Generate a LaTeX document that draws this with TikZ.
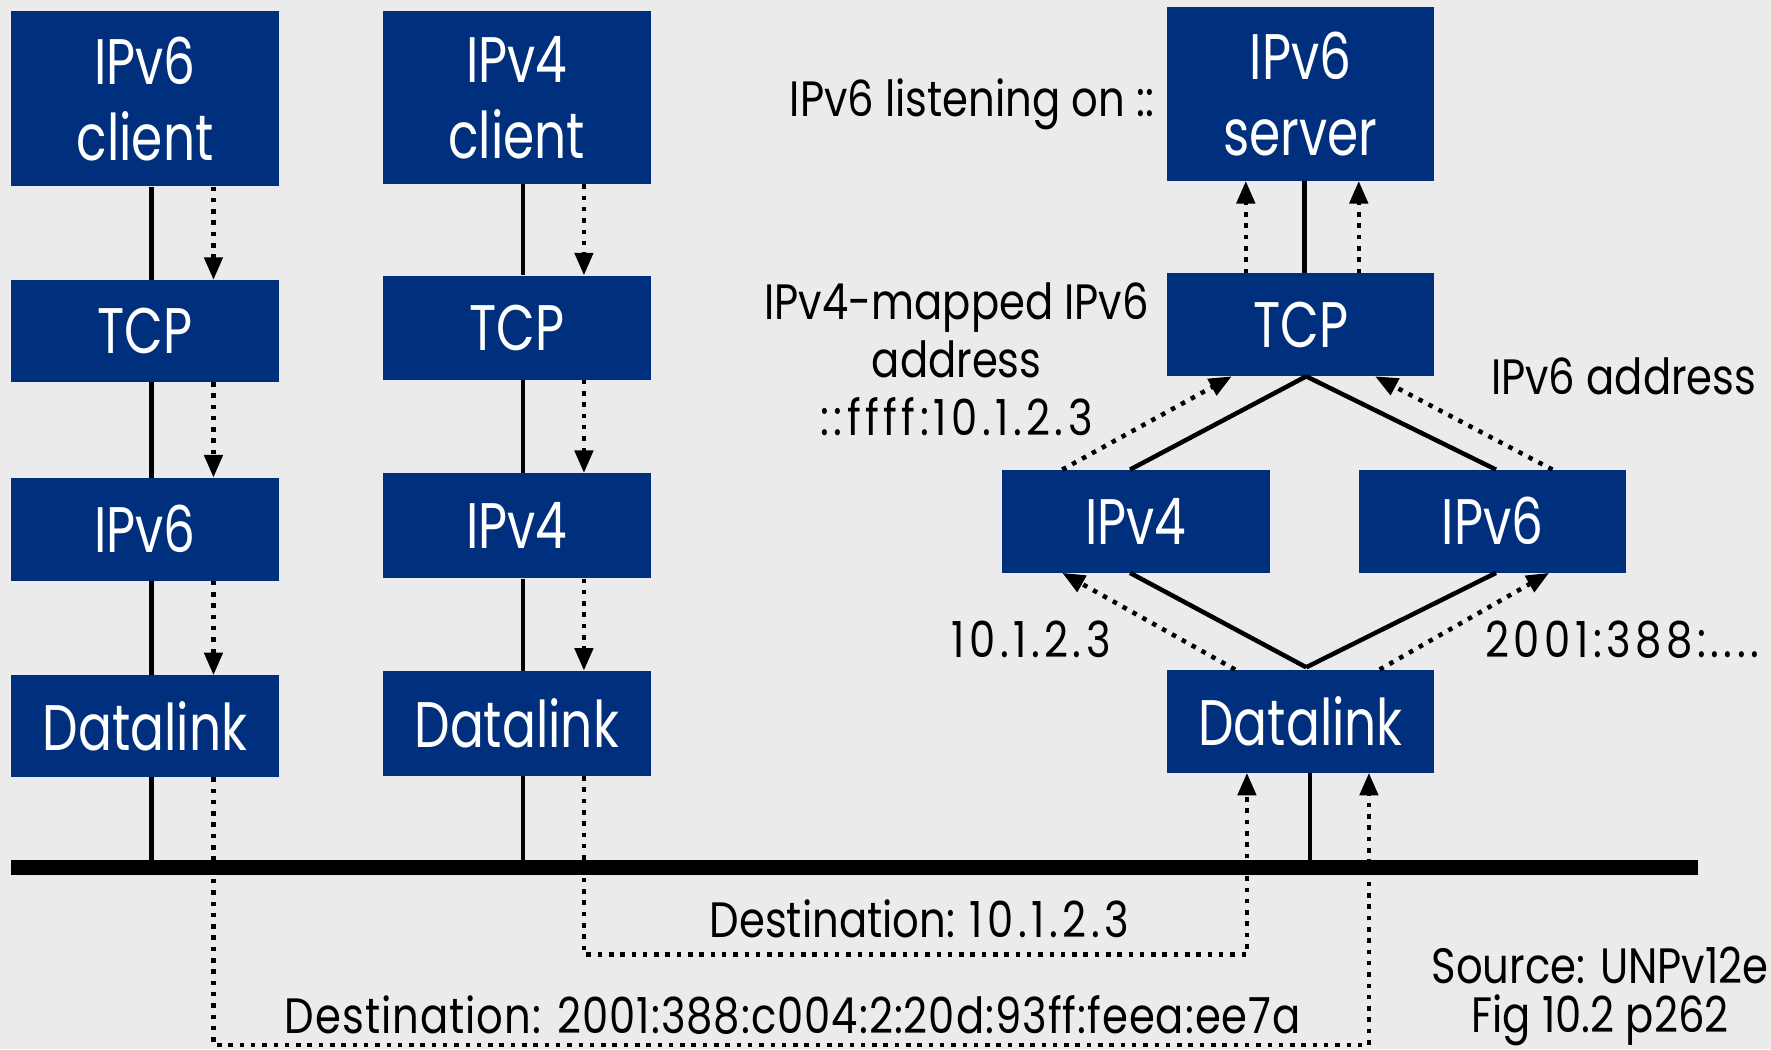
\documentclass[tikz,border=0pt]{standalone}
\usepackage{fontspec}
\setmainfont{Poppins}[FakeStretch=0.78]
\newfontfamily\lblfont{Poppins}[FakeStretch=0.84]
\newfontfamily\numfont{Poppins}[FakeStretch=0.84, LetterSpace=9]
\newfontfamily\addrfont{Poppins}[FakeStretch=0.84, LetterSpace=2]
\usetikzlibrary{arrows.meta,calc}
\definecolor{boxblue}{RGB}{0,48,125}
\definecolor{paper}{RGB}{235,235,235}

\begin{document}
\begin{tikzpicture}[x=1pt,y=-1pt,
  layer/.style={rectangle, fill=boxblue, text=white, inner sep=0pt,
    minimum width=237pt, align=center,
    font=\fontsize{57}{67}\selectfont},
  lbl/.style={inner sep=0pt, text=black, font=\lblfont\fontsize{44}{51}\selectfont},
  conn/.style={draw=black, line width=4pt},
  dotline/.style={draw=black, line width=4pt, dash pattern=on 4pt off 6pt},
  dotarrow/.style={dotline, -{Triangle[length=20pt,width=16pt]}},
  bus/.style={draw=black, line width=13pt}]

% page and background
\fill[paper] (0,0) rectangle (1568,929);
\useasboundingbox (0,0) rectangle (1568,929);

% left host: IPv6 client
\node[layer, minimum height=155pt] (c6) at (128.5,87.5) {IPv6\\client};
\node[layer, minimum height=90pt]  (t6) at (128.5,293)  {TCP};
\node[layer, minimum height=91pt]  (i6) at (128.5,468.5) {IPv6};
\node[layer, minimum height=90pt]  (d6) at (128.5,643)  {Datalink};

% middle host: IPv4 client
\node[layer, minimum height=153pt] (c4) at (457.5,86.5) {IPv4\\client};
\node[layer, minimum height=92pt]  (t4) at (457.5,290)  {TCP};
\node[layer, minimum height=93pt]  (i4) at (457.5,465.5) {IPv4};
\node[layer, minimum height=93pt]  (d4) at (457.5,640.5) {Datalink};

% dual-stack server host
\node[layer, minimum height=154pt] (srv) at (1151.5,83)   {IPv6\\server};
\node[layer, minimum height=91pt]  (tr)  at (1151.5,287.5) {TCP};
\node[layer, minimum height=91pt]  (r4)  at (1005.5,461.5) {IPv4};
\node[layer, minimum height=91pt]  (r6)  at (1321.5,461.5) {IPv6};
\node[layer, minimum height=91pt]  (dr)  at (1151.5,638.5) {Datalink};

% column positions and the shared link
\coordinate (aS) at (134,0);  \coordinate (aD) at (189,0);
\coordinate (bS) at (463,0);  \coordinate (bD) at (517,0);
\coordinate (sS) at (1155,0); \coordinate (sD1) at (1103,0); \coordinate (sD2) at (1203,0);
\coordinate (dS) at (1160,0); \coordinate (dD1) at (1104,0); \coordinate (dD2) at (1212,0);
\coordinate (lo1) at (0,845); \coordinate (lo2) at (0,925);
\coordinate (busL) at (10,768); \coordinate (busR) at (1503,768);

\draw[bus] (busL) -- (busR);

% left stack
\draw[conn] (c6.south -| aS) -- (t6.north -| aS);
\draw[conn] (t6.south -| aS) -- (i6.north -| aS);
\draw[conn] (i6.south -| aS) -- (d6.north -| aS);
\draw[conn] (d6.south -| aS) -- (aS |- busL);
\draw[dotarrow] (c6.south -| aD) -- (t6.north -| aD);
\draw[dotarrow] (t6.south -| aD) -- (i6.north -| aD);
\draw[dotarrow] (i6.south -| aD) -- (d6.north -| aD);

% middle stack
\draw[conn] (c4.south -| bS) -- (t4.north -| bS);
\draw[conn] (t4.south -| bS) -- (i4.north -| bS);
\draw[conn] (i4.south -| bS) -- (d4.north -| bS);
\draw[conn] (d4.south -| bS) -- (bS |- busL);
\draw[dotarrow] (c4.south -| bD) -- (t4.north -| bD);
\draw[dotarrow] (t4.south -| bD) -- (i4.north -| bD);
\draw[dotarrow] (i4.south -| bD) -- (d4.north -| bD);

% server stack
\draw[conn] (tr.north -| sS) -- (srv.south -| sS);
\draw[dotarrow] (tr.north -| sD1) -- (srv.south -| sD1);
\draw[dotarrow] (tr.north -| sD2) -- (srv.south -| sD2);
\draw[conn] ($(tr.south)+(5,0)$) -- ($(r4.north)+(-5,0)$);
\draw[conn] ($(tr.south)+(5,0)$) -- ($(r6.north)+(3,0)$);
\draw[conn] ($(dr.north)+(5,-2)$) -- ($(r4.south)+(-5,0)$);
\draw[conn] ($(dr.north)+(5,-2)$) -- ($(r6.south)+(3,0)$);
\draw[dotarrow] ($(dr.north)+(-58,0)$) -- ($(r4.south)+(-65,0)$);
\draw[dotarrow] ($(dr.north)+(70,0)$) -- ($(r6.south)+(50,0)$);
\draw[dotarrow] ($(r4.north)+(-65,0)$) -- ($(tr.south)+(-61,0)$);
\draw[dotarrow] ($(r6.north)+(53,0)$) -- ($(tr.south)+(66,0)$);
\draw[conn] (dr.south -| dS) -- (dS |- busL);

% packet paths across the link
\draw[dotarrow] (d4.south -| bD) -- (bD |- lo1) -- (dD1 |- lo1) -- (dr.south -| dD1);
\draw[dotarrow] (d6.south -| aD) -- (aD |- lo2) -- (dD2 |- lo2) -- (dr.south -| dD2);

% labels
\node[lbl, anchor=base east] (listen) at (1022,103) {IPv6 listening on ::};
\node[lbl, align=center] (mapped) at (847,318) {IPv4-mapped IPv6\\address\\{\numfont ::ffff:10.1.2.3}};
\node[lbl, anchor=base west] (v6addr) at (1320,349) {IPv6 address};
\node[lbl, anchor=base] (a4) at (913,582) {\numfont 10.1.2.3};
\node[lbl, anchor=base west] (a6) at (1315,582) {\numfont 2001:388:....};
\node[lbl, anchor=base] (dst4) at (814,830) {Destination: {\numfont 10.1.2.3}};
\node[lbl, anchor=base] (dst6) at (702,915) {\addrfont Destination: 2001:388:c004:2:20d:93ff:feea:ee7a};
\node[lbl, align=center, anchor=east, font=\lblfont\fontsize{44}{43}\selectfont] (src) at (1566,882) {Source: UNPv12e\\Fig 10.2 p262};
\end{tikzpicture}
\end{document}
